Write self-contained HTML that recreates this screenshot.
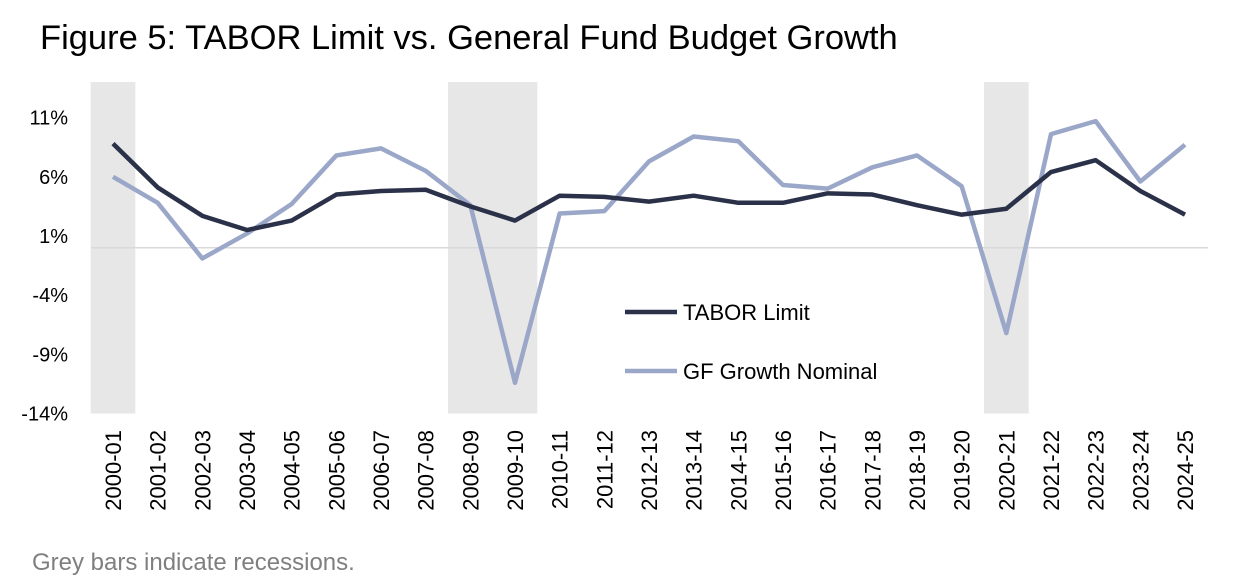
<!DOCTYPE html>
<html><head><meta charset="utf-8"><style>
body{margin:0;background:#fff;font-family:"Liberation Sans",sans-serif;}
svg{display:block}
</style></head><body>
<svg width="1240" height="588" id="c">
<text x="40" y="49" font-size="34.5" fill="#000">Figure 5: TABOR Limit vs. General Fund Budget Growth</text>
<text x="32" y="570" font-size="24" fill="#7f7f7f">Grey bars indicate recessions.</text>
<g id="g"></g>
</svg>
<script>
const categories=["2000-01","2001-02","2002-03","2003-04","2004-05","2005-06","2006-07","2007-08","2008-09","2009-10","2010-11","2011-12","2012-13","2013-14","2014-15","2015-16","2016-17","2017-18","2018-19","2019-20","2020-21","2021-22","2022-23","2023-24","2024-25"];
const taborLimit=[8.8,5.1,2.7,1.5,2.3,4.5,4.8,4.9,3.5,2.3,4.4,4.3,3.9,4.4,3.8,3.8,4.6,4.5,3.6,2.8,3.3,6.4,7.4,4.8,2.8];
const gfGrowth=[6.0,3.8,-0.9,1.2,3.7,7.8,8.4,6.5,3.6,-11.4,2.9,3.1,7.3,9.4,9.0,5.3,5.0,6.8,7.8,5.2,-7.2,9.6,10.7,5.6,8.7];
const yTicks=[11,6,1,-4,-9,-14];
const recessions=[["2000-01","2000-01"],["2008-09","2009-10"],["2020-21","2020-21"]];
const NS="http://www.w3.org/2000/svg";
const g=document.getElementById('g');
const step=(1185-113)/24;
const x=i=>113+i*step;
const y=v=>247.8-(v)*59.2/5;
function mk(t,a){const e=document.createElementNS(NS,t);for(const k in a)e.setAttribute(k,a[k]);g.appendChild(e);return e;}
recessions.forEach(r=>{const a=categories.indexOf(r[0]),b=categories.indexOf(r[1]);
const e=mk('rect',{x:x(a)-step/2,y:y(14),width:(b-a+1)*step,height:y(-14)-y(14),fill:'#e7e7e7'});

});
const zl=mk('line',{x1:91,x2:1208,y1:y(0),y2:y(0),stroke:'#d9d9d9','stroke-width':1.5});


yTicks.forEach(t=>{const e=mk('text',{x:68,y:y(t)+7,'font-size':20,'text-anchor':'end',fill:'#000'});e.textContent=t+'%';

});
categories.forEach((c,i)=>{const e=mk('text',{transform:`translate(${x(i)+8},430) rotate(-90)`,'font-size':22,'text-anchor':'end',fill:'#000'});e.textContent=c;

});
function line(d,col,name){const p=mk('polyline',{points:d.map((v,i)=>x(i)+','+y(v)).join(' '),fill:'none',stroke:col,'stroke-width':4.5,'stroke-linejoin':'round'});

}
line(gfGrowth,'#9ba7c9','gf-growth-line');
line(taborLimit,'#2a3148','tabor-limit-line');
[["TABOR Limit",'#2a3148',312],["GF Growth Nominal",'#9ba7c9',371]].forEach(l=>{
const ln=mk('line',{x1:625,x2:677,y1:l[2],y2:l[2],stroke:l[1],'stroke-width':4.5});


const t=mk('text',{x:683,y:l[2]+8,'font-size':22,fill:'#000'});t.textContent=l[0];

});
</script>
</body></html>
